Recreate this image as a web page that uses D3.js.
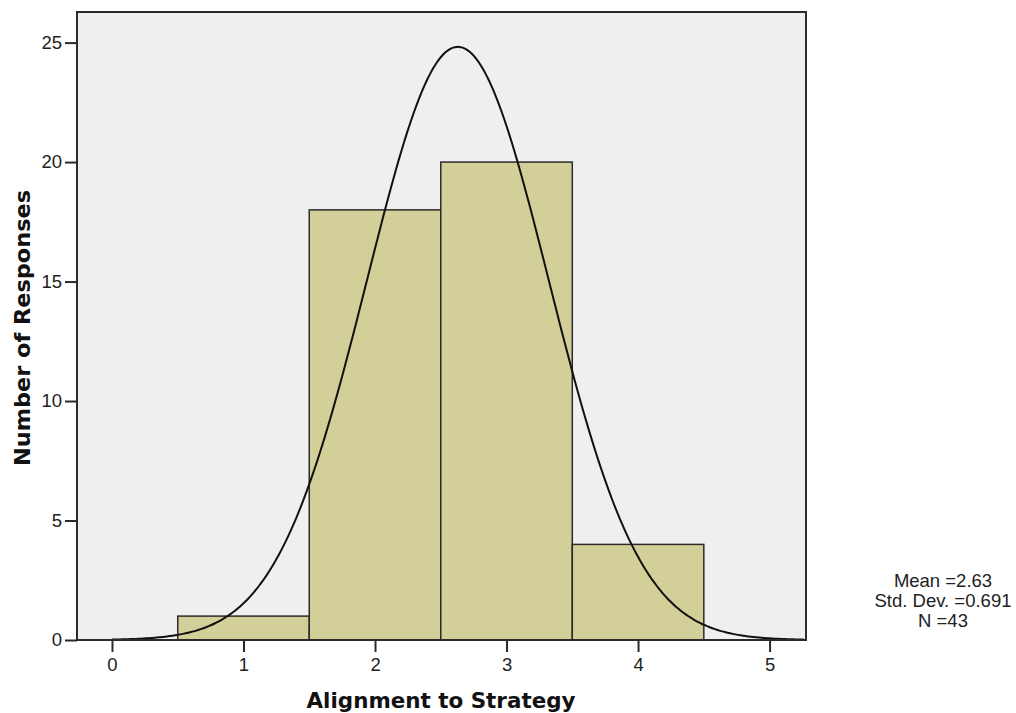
<!doctype html>
<html lang='en'>
<head>
	<meta charset='utf-8'>
	<title>Alignment to Strategy histogram</title>
	<script src='https://d3js.org/d3.v7.min.js'></script>
	<style>
		html, body { margin: 0; padding: 0; background: #fff; }
		svg { display: block; font-family: 'Liberation Sans', Arial, sans-serif; }
	</style>
</head>
<body>
	<div id='container'></div>
	<script>
		// Histogram bins (lower edge, upper edge) and counts
		const binStarts = [0.5, 1.5, 2.5, 3.5];
		const binEnds = [1.5, 2.5, 3.5, 4.5];
		const counts = [1, 18, 20, 4];

		const xTicks = [0, 1, 2, 3, 4, 5];
		const yTicks = [0, 5, 10, 15, 20, 25];

		// summary stats printed beside the chart
		const mean = 2.63, sd = 0.691, n = 43;
		const statLines = ['Mean =2.63', 'Std. Dev. =0.691', 'N =43'];

		const W = 1016, H = 713;
		const plot = {left: 77, right: 806, top: 12, bottom: 640};

		const svg = d3.select('#container').append('svg')
			.attr('width', W)
			.attr('height', H);

		const x = d3.scaleLinear()
			.domain([-0.266, 5.277])
			.range([plot.left, plot.right]);
		const y = d3.scaleLinear()
			.domain([0, 26.28])
			.range([plot.bottom, plot.top]);

		// panel background
		svg.append('rect')
			.attr('x', plot.left)
			.attr('y', plot.top)
			.attr('width', plot.right - plot.left)
			.attr('height', plot.bottom - plot.top)
			.attr('fill', '#efefef');

		// bars
		svg.append('g')
			.selectAll('rect')
			.data(counts)
			.enter()
			.append('rect')
			.attr('x', (d, i) => x(binStarts[i]))
			.attr('y', (d) => y(d))
			.attr('width', (d, i) => x(binEnds[i]) - x(binStarts[i]))
			.attr('height', (d) => y(0) - y(d))
			.attr('fill', '#d3cf98')
			.attr('stroke', '#2b2b2b')
			.attr('stroke-width', 1.5);

		// normal curve scaled to counts (bin width 1)
		const curveX = d3.range(0, 5.277, 0.02);
		const pdf = (v) => n / (sd * Math.sqrt(2 * Math.PI)) * Math.exp(-0.5 * Math.pow((v - mean) / sd, 2));
		svg.append('path')
			.datum(curveX)
			.attr('fill', 'none')
			.attr('stroke', '#111')
			.attr('stroke-width', 2)
			.attr('d', d3.line().x((d) => x(d)).y((d) => y(pdf(d))).curve(d3.curveBasis));

		// panel frame
		svg.append('rect')
			.attr('x', plot.left)
			.attr('y', plot.top)
			.attr('width', plot.right - plot.left)
			.attr('height', plot.bottom - plot.top)
			.attr('fill', 'none')
			.attr('stroke', '#2b2b2b')
			.attr('stroke-width', 2);

		// Y axis
		const yAxis = svg.append('g')
			.attr('transform', 'translate(' + plot.left + ',0)')
			.call(d3.axisLeft(y).tickValues(yTicks).tickSize(12).tickPadding(3).tickFormat(d3.format('d')));
		yAxis.select('.domain').remove();

		// X axis
		const xAxis = svg.append('g')
			.attr('transform', 'translate(0,' + plot.bottom + ')')
			.call(d3.axisBottom(x).tickValues(xTicks).tickSize(12).tickPadding(6).tickFormat(d3.format('d')));
		xAxis.select('.domain').remove();

		svg.selectAll('.tick line').attr('stroke', '#2b2b2b').attr('stroke-width', 2);
		svg.selectAll('.tick text')
			.attr('fill', '#222')
			.style('font-family', "'Liberation Sans', Arial, sans-serif")
			.style('font-size', '18.5px');

		// axis titles
		svg.append('text')
			.attr('x', 441)
			.attr('y', 708)
			.attr('text-anchor', 'middle')
			.attr('textLength', 269)
			.attr('lengthAdjust', 'spacingAndGlyphs')
			.style('font-family', "'DejaVu Sans', Verdana, sans-serif")
			.style('font-weight', 'bold')
			.style('font-size', '21px')
			.attr('fill', '#111')
			.text('Alignment to Strategy');

		svg.append('text')
			.attr('transform', 'translate(30,328) rotate(-90)')
			.attr('text-anchor', 'middle')
			.attr('textLength', 276)
			.attr('lengthAdjust', 'spacingAndGlyphs')
			.style('font-family', "'DejaVu Sans', Verdana, sans-serif")
			.style('font-weight', 'bold')
			.style('font-size', '21px')
			.attr('fill', '#111')
			.text('Number of Responses');

		// stats block
		svg.append('g')
			.selectAll('text')
			.data(statLines)
			.enter()
			.append('text')
			.attr('x', 943)
			.attr('y', (d, i) => 587 + i * 20)
			.attr('text-anchor', 'middle')
			.style('font-size', '18.5px')
			.attr('fill', '#222')
			.text((d) => d);
	</script>
</body>
</html>
